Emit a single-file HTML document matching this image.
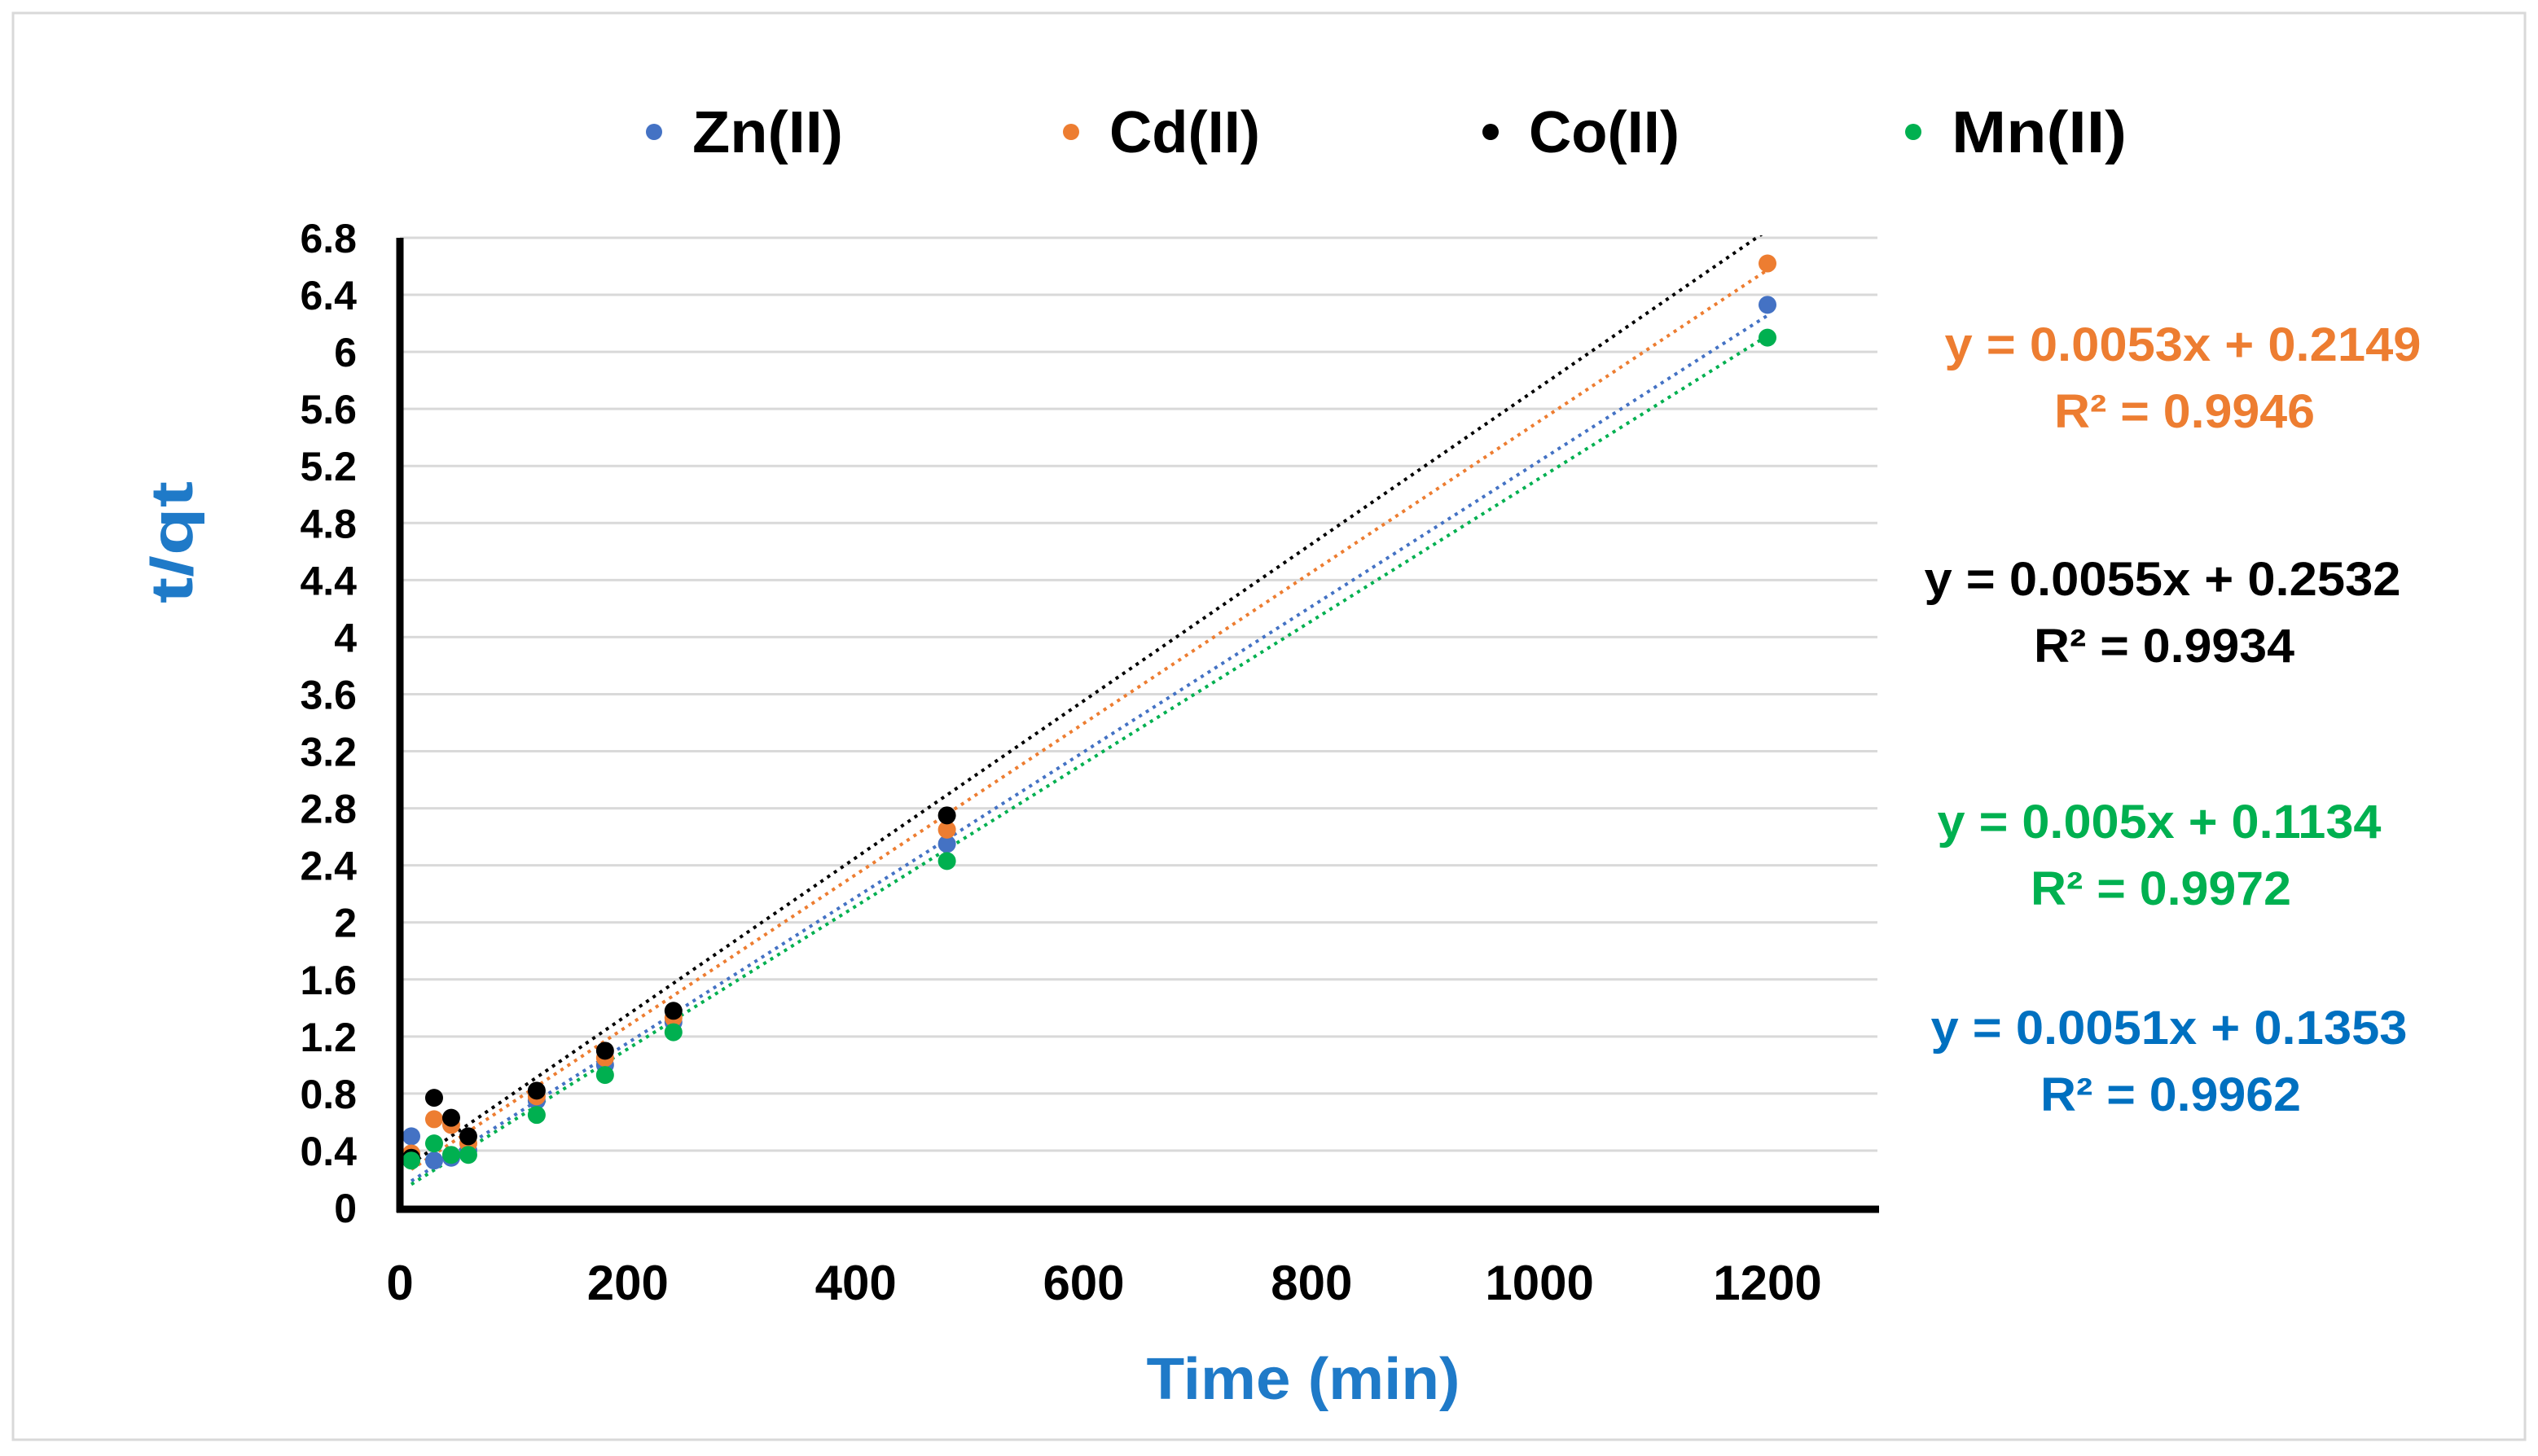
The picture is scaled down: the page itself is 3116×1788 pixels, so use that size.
<!DOCTYPE html>
<html><head><meta charset="utf-8"><style>
html,body{margin:0;padding:0;background:#fff;}
svg{display:block;font-family:"Liberation Sans",sans-serif;font-weight:bold;}
</style></head><body>
<svg id="chart" width="3116" height="1788" viewBox="0 0 3116 1788" xmlns="http://www.w3.org/2000/svg">
<rect x="16" y="16" width="3084" height="1752" fill="#fff" stroke="#d9d9d9" stroke-width="3"/>
<g id="grid"></g>
<g id="yticks"></g>
<g id="xticks"></g>
<defs><clipPath id="plotclip"><rect x="491" y="289" width="1814" height="1201"/></clipPath></defs>
<g id="trends" clip-path="url(#plotclip)"></g>
<g id="points" clip-path="url(#plotclip)"></g>
<line x1="491" y1="292" x2="491" y2="1489" stroke="#000" stroke-width="9"/>
<line x1="487" y1="1485" x2="2307" y2="1485" stroke="#000" stroke-width="9"/>
<text x="1600" y="1718" text-anchor="middle" font-size="72" fill="#1f7ac8" textLength="385" lengthAdjust="spacingAndGlyphs">Time (min)</text>
<text transform="translate(236,666) rotate(-90)" text-anchor="middle" font-size="72" fill="#1f7ac8" textLength="150" lengthAdjust="spacingAndGlyphs">t/qt</text>
<g id="legend"></g>
<g id="eqs"></g>
</svg>
<script>
const NS="http://www.w3.org/2000/svg";
const times=[10,30,45,60,120,180,240,480,1200];
const seriesNames=["Zn(II)","Cd(II)","Co(II)","Mn(II)"];
const znValues=[0.5,0.33,0.35,0.4,0.75,1.0,1.3,2.55,6.33];
const cdValues=[0.38,0.62,0.58,0.45,0.78,1.05,1.33,2.65,6.62];
const coValues=[0.35,0.77,0.63,0.5,0.82,1.1,1.38,2.75,6.95];
const mnValues=[0.33,0.45,0.37,0.37,0.65,0.93,1.23,2.43,6.1];
const slopes=[0.0051,0.0053,0.0055,0.005];
const intercepts=[0.1353,0.2149,0.2532,0.1134];
const r2Values=["0.9962","0.9946","0.9934","0.9972"];
const yTicks=[0,0.4,0.8,1.2,1.6,2,2.4,2.8,3.2,3.6,4,4.4,4.8,5.2,5.6,6,6.4,6.8];
const xTicks=[0,200,400,600,800,1000,1200];
const colors=["#4472c4","#ed7d31","#000000","#00b050"];
const eqColors=["#0070c0","#ed7d31","#000000","#00b050"];
const allValues=[znValues,cdValues,coValues,mnValues];
const X=v=>491+v*(2170-491)/1200;
const Y=v=>1483-v*(1483-292)/6.8;
function mk(tag,attrs,parent,text){const e=document.createElementNS(NS,tag);for(const k in attrs)e.setAttribute(k,attrs[k]);if(text!==undefined)e.textContent=text;parent.appendChild(e);return e;}
const grid=document.getElementById('grid'),yt=document.getElementById('yticks'),xt=document.getElementById('xticks');
yTicks.forEach(t=>{
  if(t>0){const g=mk('line',{x1:491,x2:2305,y1:Y(t),y2:Y(t),stroke:'#d9d9d9','stroke-width':3},grid);
  
  }
  const l=mk('text',{x:438,y:Y(t)+18,'text-anchor':'end','font-size':50,fill:'#000'},yt,String(t));
  
  
});
xTicks.forEach(t=>{
  const l=mk('text',{x:X(t),y:1596,'text-anchor':'middle','font-size':60,fill:'#000'},xt,String(t));
  
  
});
const tr=document.getElementById('trends');
[2,1,0,3].forEach(i=>{
  const l=mk('line',{x1:X(10),y1:Y(slopes[i]*10+intercepts[i]),x2:X(1200),y2:Y(slopes[i]*1200+intercepts[i]),stroke:colors[i],'stroke-width':4,'stroke-dasharray':'4 6'},tr);
  
  
});
const pts=document.getElementById('points');
[0,1,2,3].forEach(i=>{
  allValues[i].forEach((v,j)=>{
    const c=mk('circle',{cx:X(times[j]),cy:Y(v),r:11,fill:colors[i]},pts);
    
    
  });
});
const lg=document.getElementById('legend');
const lgDotX=[803,1315,1830,2349];
seriesNames.forEach((n,i)=>{
  const d=mk('circle',{cx:lgDotX[i],cy:162,r:10,fill:colors[i]},lg);
  
  
  const t=mk('text',{x:lgDotX[i]+47,y:187,'font-size':72,fill:'#000',textLength:i==3?215:185,lengthAdjust:'spacingAndGlyphs'},lg,n);
  
  
});
const eg=document.getElementById('eqs');
const eqCx=[2663,2680,2655,2651];
const eqY=[1262,423,711,1009];
[0,1,2,3].forEach(i=>{
  const a=mk('text',{x:eqCx[i],y:eqY[i]+20,'text-anchor':'middle','font-size':58,fill:eqColors[i],textLength:i==3?545:585,lengthAdjust:'spacingAndGlyphs'},eg,'y = '+slopes[i]+'x + '+intercepts[i]);
  
  
  const b=mk('text',{x:eqCx[i]+2,y:eqY[i]+102,'text-anchor':'middle','font-size':58,fill:eqColors[i],textLength:320,lengthAdjust:'spacingAndGlyphs'},eg,'R² = '+r2Values[i]);
  
  
});
</script>
</body></html>
